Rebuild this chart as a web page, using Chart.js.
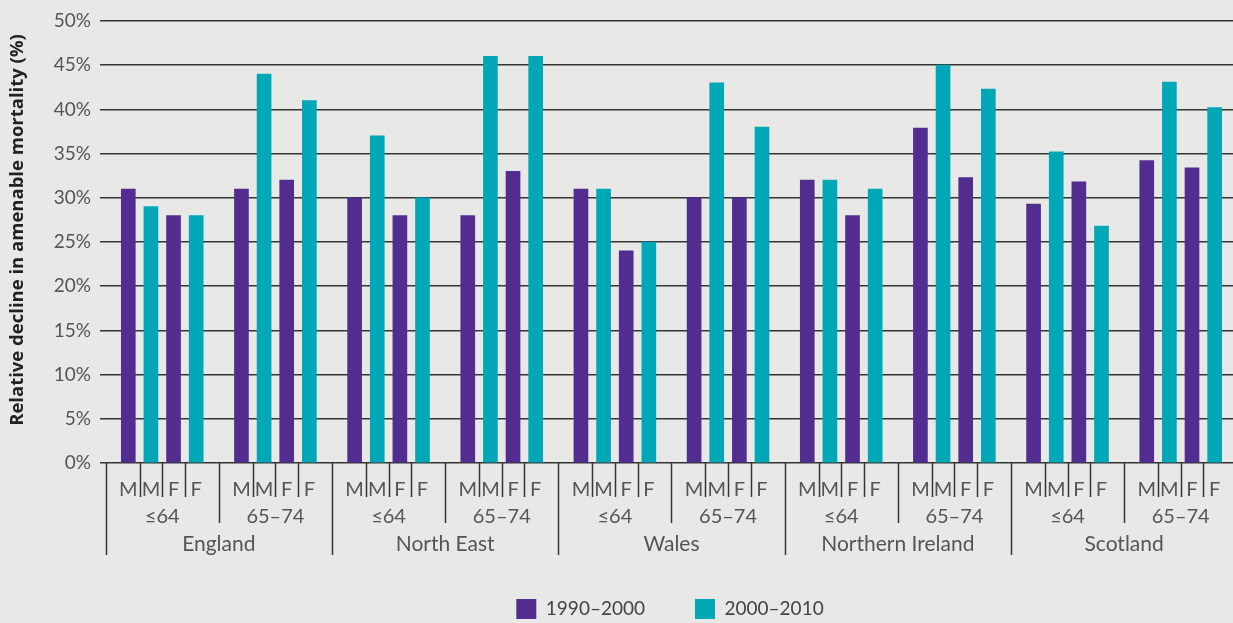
<!DOCTYPE html>
<html>
<head>
<meta charset="utf-8">
<script src="https://cdn.jsdelivr.net/npm/chart.js@4.4.1/dist/chart.umd.min.js"></script>
<style>
  html, body { margin: 0; padding: 0; background: #e8e9e6; overflow: hidden; }
  canvas { display: block; }
</style>
</head>
<body>
<canvas id="chart" width="1240" height="629"></canvas>
<script>
const regions = ["England", "North East", "Wales", "Northern Ireland", "Scotland"];
const ageGroups = ["≤64", "65–74"];
const sexLabels = ["M", "M", "F", "F"];
const yTicks = [0, 5, 10, 15, 20, 25, 30, 35, 40, 45, 50];

// M then F for each age group, region by region
const decline1990 = [31, 28, 31, 32,  30, 28, 28, 33,  31, 24, 30, 30,  32, 28, 37.9, 32.3,  29.3, 31.8, 34.2, 33.4];
const decline2000 = [29, 28, 44, 41,  37, 30, 46, 46,  31, 25, 43, 38,  32, 31, 45, 42.3,  35.2, 26.8, 43.1, 40.2];

const PURPLE = "#522d8f";
const TEAL = "#00a7b7";
const TEXT = "#555";
const LINE = "#353535";
const FONT = "Lato";

// each age group is 5 units wide: bars sit at 1..4, M/M/F/F
function toPoints(values, offset){
  return values.map((v, i) => {
    const group = Math.floor(i / 2);
    const sex = i % 2;
    return { x: group * 5 + 1 + sex * 2 + offset, y: v };
  });
}

const axisLabels = {
  id: "axisLabels",
  beforeDraw(chart){
    // centre the legend under the plot area, not the whole canvas
    const { legend, chartArea } = chart;
    legend.left = chartArea.left;
    legend.right = chartArea.right;
  },
  afterDraw(chart){
    const { ctx, chartArea: { bottom }, scales: { x } } = chart;
    const px = v => x.getPixelForValue(v);
    const tick = (v, len) => {
      const p = Math.round(px(v)) + 0.5;
      ctx.beginPath();
      ctx.moveTo(p, bottom);
      ctx.lineTo(p, bottom + len);
      ctx.stroke();
    };
    ctx.save();
    ctx.strokeStyle = LINE;
    ctx.lineWidth = 1.5;
    ctx.fillStyle = TEXT;
    ctx.textAlign = "center";
    ctx.textBaseline = "alphabetic";
    regions.forEach((name, r) => {
      tick(r * 10, 92);
      ctx.font = `21px ${FONT}`;
      ctx.fillText(name, px(r * 10 + 5), bottom + 88);
      ctx.font = `20px ${FONT}`;
      ageGroups.forEach((age, a) => {
        const base = r * 10 + a * 5;
        if (a > 0) tick(base, 60);
        ctx.fillText(age, px(base + 2.5), bottom + 60);
        sexLabels.forEach((s, j) => {
          if (j > 0) tick(base + j + 0.5, 34);
          ctx.fillText(s, px(base + j + 1), bottom + 33);
        });
      });
    });
    tick(regions.length * 10, 92);
    ctx.restore();
  }
};

new Chart(document.getElementById("chart"), {
  type: "bar",
  data: {
    datasets: [
      { label: "1990–2000", data: toPoints(decline1990, 0), backgroundColor: PURPLE },
      { label: "2000–2010", data: toPoints(decline2000, 1), backgroundColor: TEAL }
    ]
  },
  options: {
    responsive: false,
    animation: false,
    devicePixelRatio: 1,
    layout: { padding: { top: 21, left: 0, right: 0, bottom: 0 } },
    datasets: { bar: { grouped: false, barThickness: 14 } },
    plugins: {
      tooltip: { enabled: false },
      legend: {
        position: "bottom",
        labels: {
          boxWidth: 20,
          boxHeight: 20,
          padding: 50,
          color: "#444",
          font: { family: FONT, size: 19 }
        }
      }
    },
    scales: {
      x: {
        type: "linear",
        offset: false,
        min: -0.25,
        max: 50.12,
        grid: { display: false },
        border: { display: false },
        ticks: { display: false },
        afterFit: (scale) => { scale.height = 86; }
      },
      y: {
        min: 0,
        max: 50,
        afterBuildTicks: (scale) => { scale.ticks = yTicks.map(v => ({ value: v })); },
        grid: { color: LINE, lineWidth: 1.5, drawTicks: false },
        border: { display: false },
        ticks: {
          padding: 9,
          color: TEXT,
          font: { family: FONT, size: 19 },
          callback: (v) => `${v}%`
        },
        title: {
          display: true,
          // leading spaces nudge the rotated title up a little, as in the original
          text: "     Relative decline in amenable mortality (%)",
          color: "#222",
          font: { family: "Open Sans", size: 18.5, weight: "bold" },
          padding: { top: 7, bottom: 0 }
        },
        afterFit: (scale) => { scale.width = 100; }
      }
    }
  },
  plugins: [axisLabels]
});
</script>
</body>
</html>
